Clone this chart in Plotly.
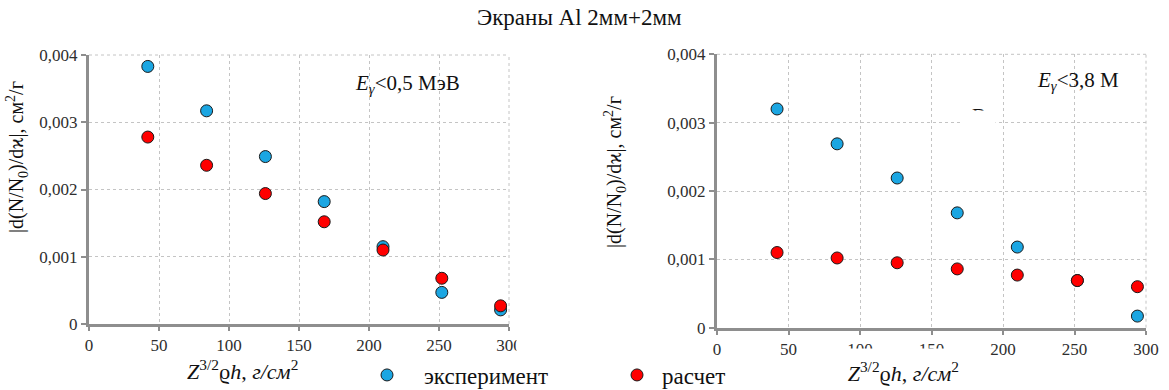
import plotly.graph_objects as go

# ---- data ----
z_values = [42, 84, 126, 168, 210, 252, 294]
left_experiment = [0.00383, 0.00317, 0.00249, 0.00182, 0.00115, 0.00047, 0.00021]
left_calc = [0.00278, 0.00236, 0.00194, 0.00152, 0.00110, 0.00068, 0.00027]
right_experiment = [0.00320, 0.00269, 0.00219, 0.00168, 0.00118, 0.00069, 0.00017]
right_calc = [0.00110, 0.00102, 0.00095, 0.00086, 0.00077, 0.00069, 0.00060]

x_tick_values = [0, 50, 100, 150, 200, 250, 300]
x_tick_labels = ["0", "50", "100", "150", "200", "250", "300"]
y_tick_values = [0, 0.001, 0.002, 0.003, 0.004]
y_tick_labels = ["0", "0,001", "0,002", "0,003", "0,004"]

series_names = ["эксперимент", "расчет"]
title_text = "Экраны Al 2мм+2мм"
left_label = "<i>E</i><sub><i>γ</i></sub>&lt;0,5 МэВ"
right_label = "<i>E</i><sub><i>γ</i></sub>&lt;3,8 М"
y_title = "|d(N/N<sub>0</sub>)/dϰ|, см<sup>2</sup>/г"
x_title = "<i>Z</i><sup>3/2</sup>ϱ<i>h</i>, <i>г/см</i><sup>2</sup>"

# ---- style ----
W, H = 1169, 390
SERIF = "Liberation Serif"
BLUE = "#1ba6e2"
RED = "#ff0000"
AXIS_GRAY = "#8e8e8e"
GRID_GRAY = "#c4c4c4"
TEXT = "#111111"


def px_x(p):
    return p / W


def px_y(p):
    return (H - p) / H


fig = go.Figure()

marker_line = dict(color="#1a1a1a", width=1)

fig.add_trace(go.Scatter(x=z_values, y=left_experiment, mode="markers", name=series_names[0],
                         marker=dict(color=BLUE, size=12, line=marker_line),
                         xaxis="x", yaxis="y", legend="legend", showlegend=True))
fig.add_trace(go.Scatter(x=z_values, y=left_calc, mode="markers", name=series_names[1],
                         marker=dict(color=RED, size=12, line=marker_line),
                         xaxis="x", yaxis="y", legend="legend2", showlegend=True))
fig.add_trace(go.Scatter(x=z_values, y=right_experiment, mode="markers", name=series_names[0],
                         marker=dict(color=BLUE, size=12, line=marker_line),
                         xaxis="x2", yaxis="y2", showlegend=False))
fig.add_trace(go.Scatter(x=z_values, y=right_calc, mode="markers", name=series_names[1],
                         marker=dict(color=RED, size=12, line=marker_line),
                         xaxis="x2", yaxis="y2", showlegend=False))

tickfont = dict(family=SERIF, size=17, color="#2e2e2e")

xaxis_common = dict(range=[0, 300], tickvals=x_tick_values, ticktext=x_tick_labels,
                    showgrid=True, gridcolor=GRID_GRAY, griddash="dot", gridwidth=1,
                    showline=True, linecolor=AXIS_GRAY, linewidth=3,
                    ticks="outside", ticklen=4, tickwidth=2, tickcolor=AXIS_GRAY,
                    tickfont=tickfont, zeroline=False, fixedrange=True)
yaxis_common = dict(range=[0, 0.004], tickvals=y_tick_values, ticktext=y_tick_labels,
                    showgrid=True, gridcolor=GRID_GRAY, griddash="dot", gridwidth=1,
                    showline=True, linecolor=AXIS_GRAY, linewidth=3,
                    ticks="outside", ticklen=5, tickwidth=2, tickcolor=AXIS_GRAY,
                    tickfont=tickfont, zeroline=False, fixedrange=True)

legend_font = dict(family=SERIF, size=23, color=TEXT)

fig.update_layout(
    width=W, height=H,
    margin=dict(l=0, r=0, t=0, b=0, autoexpand=False),
    paper_bgcolor="white", plot_bgcolor="white",
    font=dict(family=SERIF, color=TEXT),
    xaxis=dict(domain=[px_x(89), px_x(509)], anchor="y", **xaxis_common),
    yaxis=dict(domain=[px_y(324), px_y(55)], anchor="x", **yaxis_common),
    xaxis2=dict(domain=[px_x(717), px_x(1146)], anchor="y2", **xaxis_common),
    yaxis2=dict(domain=[px_y(327.7), px_y(54.3)], anchor="x2", **yaxis_common),
    legend=dict(x=px_x(350), y=px_y(375), xanchor="left", yanchor="middle", itemwidth=64,
                orientation="h", bgcolor="rgba(0,0,0,0)", borderwidth=0, font=legend_font),
    legend2=dict(x=px_x(612), y=px_y(375), xanchor="left", yanchor="middle", itemwidth=40,
                 orientation="h", bgcolor="rgba(0,0,0,0)", borderwidth=0, font=legend_font),
)

# dotted top/right borders of each plot area
for xr, yr in (("x", "y"), ("x2", "y2")):
    fig.add_shape(type="line", xref=f"{xr} domain", yref=f"{yr} domain", x0=0, x1=1, y0=1, y1=1,
                  line=dict(color=GRID_GRAY, width=1, dash="dot"), layer="below")
    fig.add_shape(type="line", xref=f"{xr} domain", yref=f"{yr} domain", x0=1, x1=1, y0=0, y1=1,
                  line=dict(color=GRID_GRAY, width=1, dash="dot"), layer="below")


def note(text, x, y, size=21, **kw):
    d = dict(text=text, x=px_x(x), y=px_y(y), xref="paper", yref="paper",
             xanchor="center", yanchor="middle", showarrow=False,
             font=dict(family=SERIF, size=size, color=TEXT))
    d.update(kw)
    return d


ann = [
    note(title_text, 579, 18, size=23),
    note(left_label, 407, 84),
    note(right_label, 1078, 81),
    # wrapped and clipped remainder of the right label
    note("В", 979, 116),
    note(" ", 979, 110, size=10, yanchor="top", width=30, height=24, bgcolor="white"),
    # y-axis titles
    note(y_title, 17, 157, size=20, textangle=-90),
    note(y_title, 615, 172, size=20, textangle=-90),
    # clip of the left "300" label
    note(" ", 516, 343, size=10, xanchor="left", width=14, height=24, bgcolor="white"),
    # x-axis titles (the right one hides the lower part of some tick labels)
    note(x_title, 242, 370, size=22),
    note(x_title, 822, 348, size=22, xanchor="left", yanchor="top", align="right",
         valign="middle", bgcolor="white", width=135, height=44),
]
fig.update_layout(annotations=ann)

fig.write_html("out.html")
